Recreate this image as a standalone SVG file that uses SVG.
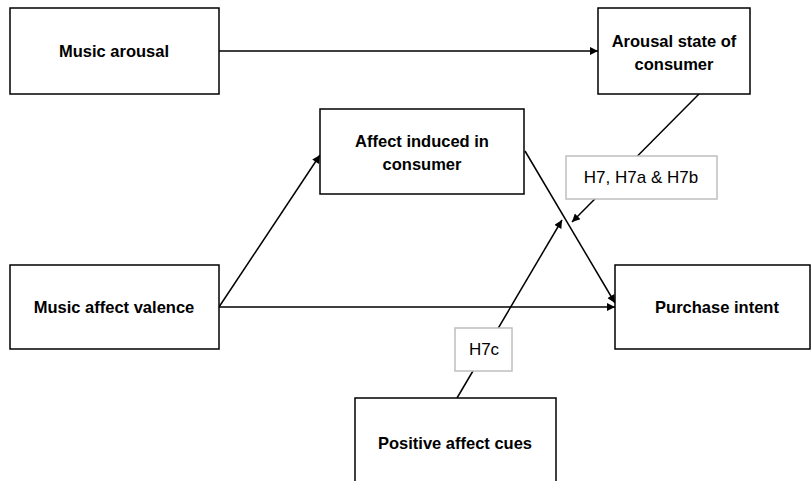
<svg xmlns="http://www.w3.org/2000/svg" width="811" height="481" viewBox="0 0 811 481">
<style>
.box{fill:#fff;stroke:#000;stroke-width:1.5}
.lbl{fill:#fff;stroke:#bfbfbf;stroke-width:1.5}
.t{font-family:"Liberation Sans",Arial,sans-serif;font-size:16.5px;font-weight:bold;fill:#000;text-anchor:middle}
.r{font-family:"Liberation Sans",Arial,sans-serif;font-size:17px;fill:#000;text-anchor:middle}
.c{stroke:#000;stroke-width:1.5;fill:none;marker-end:url(#ah)}
</style>
<defs>
<marker id="ah" viewBox="0 0 10 10" refX="10" refY="5" markerWidth="9" markerHeight="8" markerUnits="userSpaceOnUse" orient="auto">
<path d="M0,0 L10,5 L0,10 z" fill="#000"/>
</marker>
</defs>
<rect width="811" height="481" fill="#fff"/>
<g id="connectors">
<line class="c" x1="219" y1="51" x2="598" y2="51"/>
<line class="c" x1="219" y1="307" x2="615" y2="307"/>
<line class="c" x1="219" y1="307" x2="320" y2="155"/>
<line class="c" x1="525" y1="151" x2="615" y2="303"/>
<line class="c" x1="699" y1="94" x2="572" y2="222"/>
<line class="c" x1="457" y1="398" x2="562" y2="220"/>
</g>
<g id="music-arousal">
<rect class="box" x="10" y="8" width="209" height="86"/>
<text class="t" x="114" y="57">Music arousal</text>
</g>
<g id="arousal-state">
<rect class="box" x="598" y="8" width="152" height="86"/>
<text class="t" x="674" y="47">Arousal state of</text>
<text class="t" x="674" y="70">consumer</text>
</g>
<g id="affect-induced">
<rect class="box" x="320" y="109" width="204" height="85"/>
<text class="t" x="422" y="147">Affect induced in</text>
<text class="t" x="422" y="170">consumer</text>
</g>
<g id="music-affect-valence">
<rect class="box" x="10" y="265" width="209" height="84"/>
<text class="t" x="114" y="313">Music affect valence</text>
</g>
<g id="purchase-intent">
<rect class="box" x="615" y="265" width="195" height="84"/>
<text class="t" x="717" y="313">Purchase intent</text>
</g>
<g id="positive-affect-cues">
<rect class="box" x="355" y="398" width="201" height="95"/>
<text class="t" x="455" y="449">Positive affect cues</text>
</g>
<g id="label-h7">
<rect class="lbl" x="566" y="156" width="151" height="43"/>
<text class="r" x="641" y="183">H7, H7a &amp; H7b</text>
</g>
<g id="label-h7c">
<rect class="lbl" x="455" y="328" width="57" height="43"/>
<text class="r" x="484" y="355">H7c</text>
</g>
</svg>
